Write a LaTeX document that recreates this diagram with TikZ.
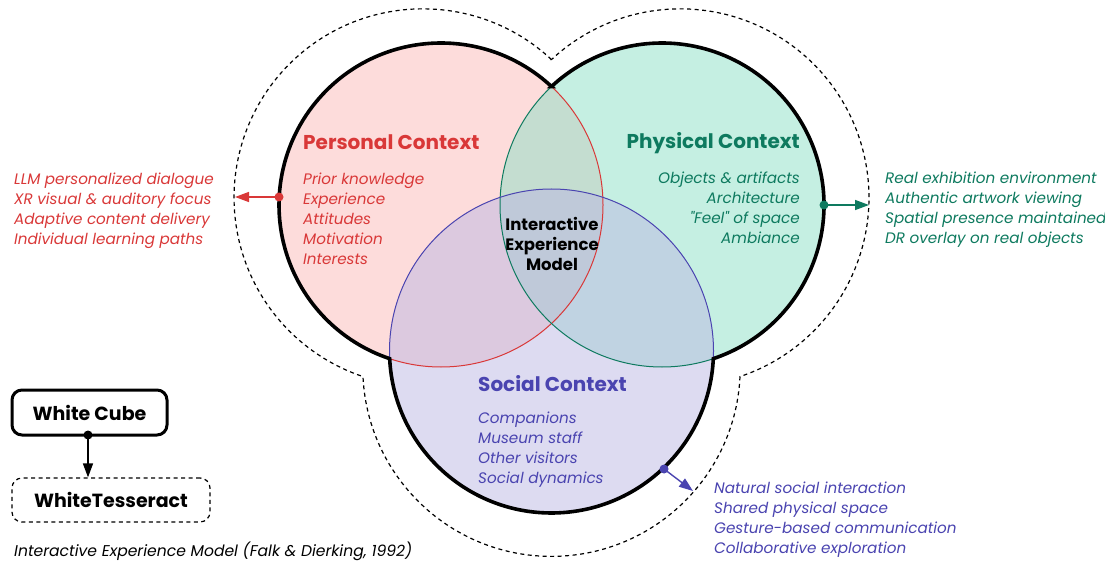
\documentclass[tikz,border=0pt]{standalone}
\usepackage{fontspec}
\setmainfont{Poppins}[Ligatures=TeXOff]
\usetikzlibrary{arrows.meta}
\definecolor{pred}{RGB}{217,56,56}
\definecolor{pgreen}{RGB}{14,122,95}
\definecolor{ppurple}{RGB}{74,68,176}
\definecolor{fillred}{RGB}{251,185,183}
\definecolor{fillgreen}{RGB}{139,223,197}
\definecolor{fillpurple}{RGB}{187,183,227}
\newcommand\vennunion{(551.5,86.54) arc[start angle=-46.99,end angle=-251.53,radius=162]
  arc[start angle=177.29,end angle=2.71,radius=162]
  arc[start angle=71.53,end angle=-133.01,radius=162] -- cycle}
\newcommand\itemfont{\fontsize{15.2}{20}\selectfont\itshape}
\newcommand\headfont{\fontsize{20}{22}\selectfont\bfseries}
\begin{document}
\begin{tikzpicture}[x=1pt,y=-1pt,
  item/.style={anchor=base west, inner sep=0pt, font=\itemfont},
  itemr/.style={anchor=base east, inner sep=0pt, font=\itemfont},
  head/.style={anchor=base west, inner sep=0pt, font=\headfont},
  dotnode/.style={circle, fill, inner sep=0pt, minimum size=9pt},
  conn/.style={line width=1.4pt, -{Triangle[length=14pt,width=10pt]}},
  venncircle/.style={fill opacity=0.5},
  boxnode/.style={rounded corners=10pt, minimum height=45pt, inner sep=0pt, font=\fontsize{19}{22}\selectfont\bfseries}
]
\useasboundingbox (0,0) rectangle (1105,561);
% fills
\fill[venncircle, fill=fillred] (441,205) circle[radius=162];
\fill[venncircle, fill=fillgreen] (662,205) circle[radius=162];
\fill[venncircle, fill=fillpurple] (551.5,351) circle[radius=162];
% thin coloured outlines
\draw[pred, line width=1pt] (441,205) circle[radius=162];
\draw[pgreen, line width=1pt] (662,205) circle[radius=162];
\draw[ppurple, line width=1pt] (551.5,351) circle[radius=162];
% outer thick outline
\draw[line width=3.6pt, line join=miter] \vennunion;
% dashed outline
\begin{scope}[shift={(551.5,250)}, scale=1.165, shift={(-551.5,-250)}]
\draw[line width=1.2pt, dash pattern=on 4pt off 3.5pt] \vennunion;
\end{scope}

% headings
\node[head, text=pred] (perhead) at (303,150) {Personal Context};
\node[head, text=pgreen, anchor=base east] (phyhead) at (800,149) {Physical Context};
\node[head, text=ppurple] (sochead) at (478,391) {Social Context};

% inner lists
\foreach \t [count=\i from 0] in {Prior knowledge, Experience, Attitudes, Motivation, Interests}
  \node[item, text=pred] (per\i) at (303,185+20*\i) {\t};
\foreach \t [count=\i from 0] in {Objects \& artifacts, Architecture, "Feel" of space, Ambiance}
  \node[itemr, text=pgreen] (phy\i) at (800,184+20*\i) {\t};
\foreach \t [count=\i from 0] in {Companions, Museum staff, Other visitors, Social dynamics}
  \node[item, text=ppurple] (soc\i) at (478,423+20*\i) {\t};

% centre
\node[inner sep=0pt, align=center, font=\fontsize{16.5}{20}\selectfont\bfseries] (centre) at (552,244) {Interactive\\Experience\\Model};

% outer lists
\foreach \t [count=\i from 0] in {LLM personalized dialogue, XR visual \& auditory focus, Adaptive content delivery, Individual learning paths}
  \node[item, text=pred] (lft\i) at (14,185+20*\i) {\t};
\foreach \t [count=\i from 0] in {Real exhibition environment, Authentic artwork viewing, Spatial presence maintained, DR overlay on real objects}
  \node[item, text=pgreen] (rgt\i) at (885,184+20*\i) {\t};
\foreach \t [count=\i from 0] in {Natural social interaction, Shared physical space, Gesture-based communication, Collaborative exploration}
  \node[item, text=ppurple] (bot\i) at (714,493+20*\i) {\t};

% connectors
\node[dotnode, fill=pred] (rdot) at (279,197) {};
\coordinate (rend) at (235,197);
\draw[conn, pred] (rdot.center) -- (rend);
\node[dotnode, fill=pgreen] (gdot) at (824,205) {};
\coordinate (gend) at (869,205);
\draw[conn, pgreen] (gdot.center) -- (gend);
\node[dotnode, fill=ppurple] (udot) at (664,469) {};
\coordinate (uend) at (693,491);
\draw[conn, ppurple] (udot.center) -- (uend);

% legend boxes
\node[boxnode, draw, line width=3pt, minimum width=155pt] (cube) at (89.5,412.5) {White Cube};
\node[boxnode, draw, line width=1.2pt, dash pattern=on 4pt off 3.5pt, minimum width=198pt, minimum height=44pt] (tess) at (111,500) {WhiteTesseract};
\node[dotnode, fill=black] (cdot) at (88,435) {};
\coordinate (tend) at (cdot.center |- tess.north);
\draw[conn, black] (cdot.center) -- (tend);

% caption
\node[item, text=black, font=\fontsize{15.6}{20}\selectfont\itshape] (caption) at (14,556) {Interactive Experience Model (Falk \& Dierking, 1992)};
\end{tikzpicture}
\end{document}
